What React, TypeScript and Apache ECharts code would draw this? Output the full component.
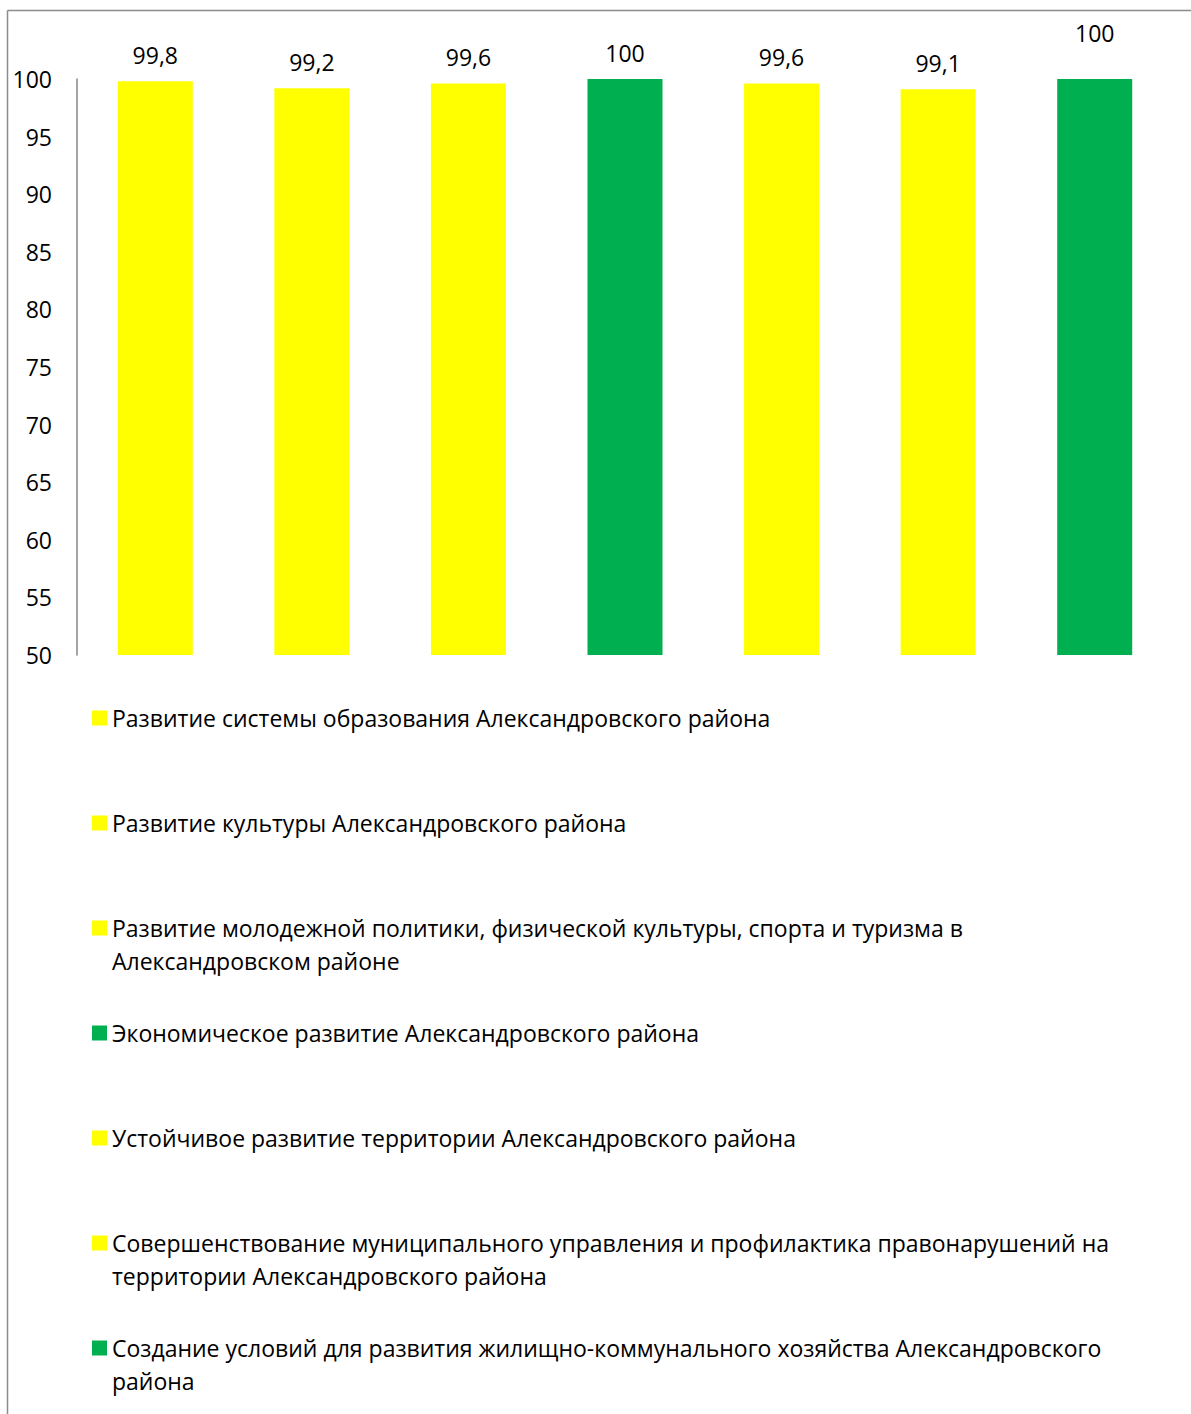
import React, { useEffect, useRef } from "react";
import * as echarts from "echarts";

const categories = [
  "Развитие системы образования Александровского района",
  "Развитие культуры Александровского района",
  "Развитие молодежной политики, физической культуры, спорта и туризма в Александровском районе",
  "Экономическое развитие Александровского района",
  "Устойчивое развитие территории Александровского района",
  "Совершенствование муниципального управления и профилактика правонарушений на территории Александровского района",
  "Создание условий для развития жилищно-коммунального хозяйства Александровского района",
];
// legend text as shown, with the original line breaks
const legendLines = [
  ["Развитие системы образования Александровского района"],
  ["Развитие культуры Александровского района"],
  ["Развитие молодежной политики, физической культуры, спорта и туризма в", "Александровском районе"],
  ["Экономическое развитие Александровского района"],
  ["Устойчивое развитие территории Александровского района"],
  ["Совершенствование муниципального управления и профилактика правонарушений на", "территории Александровского района"],
  ["Создание условий для развития жилищно-коммунального хозяйства Александровского", "района"],
];
const values = [99.8, 99.2, 99.6, 100, 99.6, 99.1, 100];
const colors = ["#FFFF00", "#FFFF00", "#FFFF00", "#00B050", "#FFFF00", "#FFFF00", "#00B050"];
const yMin = 50;
const yMax = 100;
const yInterval = 5;

const FONT = "'Open Sans', sans-serif";
const FS = 23;

// three-line box so that the first text line sits level with the legend icon
const legendText = (lines: string[]) =>
  lines.length === 1 ? "\n" + lines[0] + "\n" : "\n" + lines.join("\n");

export default function App() {
  const ref = useRef<HTMLDivElement>(null);
  useEffect(() => {
    document.body.style.margin = "0";
    const chart = echarts.init(ref.current!, undefined, { renderer: "svg" });
    const series = categories.map((name, i) => ({
      name,
      type: "bar",
      barGap: "-100%",
      barWidth: 75,
      itemStyle: { color: colors[i] },
      data: values.map((v, j) =>
        j === i
          ? {
              value: v,
              label: i === 6 ? { offset: [0, -20] } : undefined,
            }
          : null
      ),
      label: {
        show: true,
        position: "top",
        distance: 15,
        color: "#000",
        fontFamily: FONT,
        fontSize: FS,
        formatter: (p: any) => String(p.value).replace(".", ","),
      },
    }));
    chart.setOption({
      animation: false,
      backgroundColor: "#fff",
      textStyle: { fontFamily: FONT },
      grid: { left: 77, right: 18, top: 79, bottom: 1414 - 655 },
      xAxis: {
        type: "category",
        data: categories,
        axisLine: { show: false },
        axisTick: { show: false },
        axisLabel: { show: false },
      },
      yAxis: {
        type: "value",
        min: yMin,
        max: yMax,
        interval: yInterval,
        axisLine: { show: true, lineStyle: { color: "#868686", width: 1.5 } },
        axisTick: { show: false },
        splitLine: { show: false },
        axisLabel: { color: "#000", fontFamily: FONT, fontSize: FS, margin: 25 },
      },
      legend: {
        orient: "vertical",
        left: 92,
        top: 718 - 49.5,
        padding: 0,
        itemGap: 6,
        itemWidth: 15,
        itemHeight: 15,
        icon: "rect",
        selectedMode: false,
        data: categories.map((name, i) => ({
          name,
          itemStyle: { color: colors[i] },
        })),
        formatter: (name: string) => legendText(legendLines[categories.indexOf(name)]),
        textStyle: { color: "#000", fontFamily: FONT, fontSize: FS, lineHeight: 33 },
      },
      graphic: [
        { type: "line", shape: { x1: 7.5, y1: 10.5, x2: 1191, y2: 10.5 }, style: { stroke: "#8c8c8c", lineWidth: 1.5 } },
        { type: "line", shape: { x1: 7.5, y1: 10.5, x2: 7.5, y2: 1414 }, style: { stroke: "#8c8c8c", lineWidth: 1.5 } },
      ],
      series,
    });
    return () => chart.dispose();
  }, []);
  return <div ref={ref} style={{ width: 1191, height: 1414 }} />;
}
